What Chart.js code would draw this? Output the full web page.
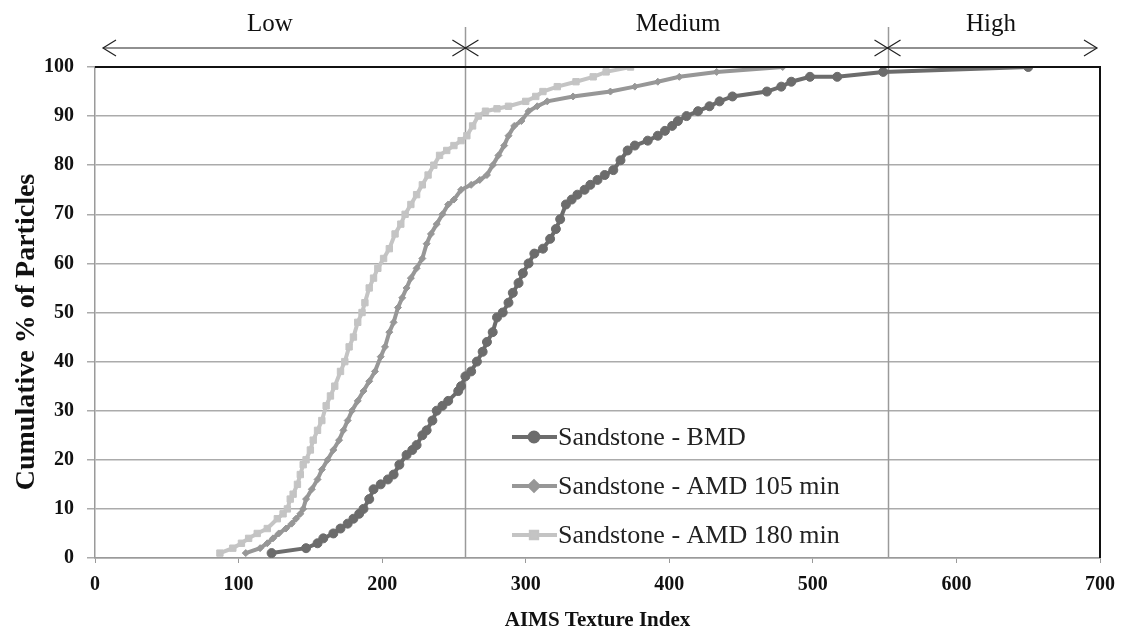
<!DOCTYPE html>
<html>
<head>
<meta charset="utf-8">
<script src="https://cdn.jsdelivr.net/npm/chart.js@4.4.1/dist/chart.umd.min.js"></script>
<style>
  html, body { margin: 0; padding: 0; background: #fff; }
  #wrap { width: 1122px; height: 639px; position: relative; }
</style>
</head>
<body>
<div id="wrap"><canvas id="chart" width="1122" height="639"></canvas></div>
<script>
// Dữ liệu: [AIMS Texture Index, % tích lũy]
const bmd = [[123,1],[147,2],[155,3],[159,4],[166,5],[171,6],[176,7],[180,8],[184,9],[187,10],[191,12],[194,14],[199,15],[204,16],[208,17],[212,19],[217,21],[221,22],[224,23],[228,25],[231,26],[235,28],[238,30],[242,31],[246,32],[253,34],[255,35],[258,37],[262,38],[266,40],[270,42],[273,44],[277,46],[280,49],[284,50],[288,52],[291,54],[295,56],[298,58],[302,60],[306,62],[312,63],[317,65],[321,67],[324,69],[328,72],[332,73],[336,74],[341,75],[345,76],[350,77],[355,78],[361,79],[366,81],[371,83],[376,84],[385,85],[392,86],[397,87],[402,88],[406,89],[412,90],[420,91],[428,92],[435,93],[444,94],[468,95],[478,96],[485,97],[498,98],[517,98],[549,99],[650,100]];

const amd105 = [[105,1],[115,2],[120,3],[124,4],[128,5],[133,6],[137,7],[140,8],[143,9],[145,10],[147,12],[151,14],[155,16],[158,18],[162,20],[166,22],[170,24],[173,26],[176,28],[179,30],[183,32],[187,34],[191,36],[195,38],[199,41],[202,43],[205,46],[208,48],[211,51],[214,53],[217,55],[220,57],[224,59],[228,61],[231,64],[234,66],[238,68],[242,70],[246,72],[250,73],[255,75],[262,76],[268,77],[273,78],[277,80],[281,82],[285,84],[288,86],[292,88],[297,89],[302,91],[308,92],[315,93],[333,94],[359,95],[376,96],[392,97],[407,98],[433,99],[479,100]];

const amd180 = [[87,1],[96,2],[102,3],[107,4],[113,5],[120,6],[127,8],[131,9],[134,10],[136,12],[138,13],[141,15],[143,17],[145,19],[147,20],[150,22],[152,24],[155,26],[158,28],[161,31],[164,33],[167,35],[171,38],[174,40],[177,43],[180,45],[183,48],[186,50],[188,52],[191,55],[194,57],[197,59],[201,61],[205,63],[209,66],[213,68],[216,70],[220,72],[224,74],[228,76],[232,78],[236,80],[240,82],[245,83],[250,84],[255,85],[259,86],[263,88],[267,90],[272,91],[280,91.5],[288,92],[300,93],[307,94],[312,95],[322,96],[335,97],[347,98],[356,99],[373,100]];

const seriesNames = ['Sandstone - BMD', 'Sandstone - AMD 105 min', 'Sandstone - AMD 180 min'];
const seriesColors = ['#6c6c6c', '#979797', '#c4c4c4'];
const seriesMarkers = ['circle', 'rectRot', 'rect'];

// Ranh giới phân loại và nhãn
const zoneBounds = [258, 552];
const zoneLabels = ['Low', 'Medium', 'High'];

const serif = '"Liberation Serif", "Times New Roman", serif';

function toPts(arr) {
    return arr.map(p => ({ x: p[0], y: p[1] }));
}

// Vẽ vùng Low/Medium/High, khung, tiêu đề trục tung và chú giải
const extras = {
    id: 'extras',
    beforeDatasetsDraw(chart) {
        const ctx = chart.ctx;
        const xs = chart.scales.x;
        const a = chart.chartArea;
        ctx.save();
        ctx.strokeStyle = '#9a9a9a';
        ctx.lineWidth = 1.5;
        zoneBounds.forEach(v => {
            const px = Math.round(xs.getPixelForValue(v)) + 0.5;
            ctx.beginPath();
            ctx.moveTo(px, 27);
            ctx.lineTo(px, a.bottom);
            ctx.stroke();
        });
        ctx.restore();
    },
    afterDraw(chart) {
        const ctx = chart.ctx;
        const xs = chart.scales.x;
        const a = chart.chartArea;
        ctx.save();
        // khung trên và phải
        ctx.strokeStyle = '#111';
        ctx.lineWidth = 2;
        ctx.beginPath();
        ctx.moveTo(a.left, a.top);
        ctx.lineTo(a.right, a.top);
        ctx.lineTo(a.right, a.bottom);
        ctx.stroke();

        // mũi tên
        const ay = 48;
        const x0 = 103, x3 = 1097;
        const b1 = xs.getPixelForValue(zoneBounds[0]);
        const b2 = xs.getPixelForValue(zoneBounds[1]);
        ctx.strokeStyle = '#222';
        ctx.lineWidth = 1.2;
        ctx.beginPath();
        ctx.moveTo(x0, ay);
        ctx.lineTo(x3, ay);
        ctx.stroke();
        const head = (x, dir) => {
            ctx.beginPath();
            ctx.moveTo(x + dir * 13, ay - 8);
            ctx.lineTo(x, ay);
            ctx.lineTo(x + dir * 13, ay + 8);
            ctx.stroke();
        };
        head(x0, 1);
        head(x3, -1);
        [b1, b2].forEach(b => { head(b, -1); head(b, 1); });

        ctx.fillStyle = '#111';
        ctx.font = '25px ' + serif;
        ctx.textAlign = 'center';
        ctx.textBaseline = 'alphabetic';
        ctx.fillText(zoneLabels[0], 270, 31);
        ctx.fillText(zoneLabels[1], 678, 31);
        ctx.fillText(zoneLabels[2], 991, 31);

        // tiêu đề trục tung
        ctx.save();
        ctx.translate(27, 332);
        ctx.rotate(-Math.PI / 2);
        ctx.font = 'bold 28px ' + serif;
        ctx.textBaseline = 'middle';
        ctx.fillText('Cumulative % of Particles', 0, 0);
        ctx.restore();

        // chú giải
        const lx = 512, ly = [437, 486, 535];
        ctx.textAlign = 'left';
        ctx.textBaseline = 'middle';
        ctx.font = '26px ' + serif;
        seriesNames.forEach((name, i) => {
            ctx.strokeStyle = seriesColors[i];
            ctx.fillStyle = seriesColors[i];
            ctx.lineWidth = 4;
            ctx.beginPath();
            ctx.moveTo(lx, ly[i]);
            ctx.lineTo(lx + 45, ly[i]);
            ctx.stroke();
            Chart.helpers.drawPoint(ctx, { pointStyle: seriesMarkers[i], radius: 4.5, borderWidth: 1 }, lx + 22, ly[i]);
            ctx.fill();
            ctx.fillStyle = '#222';
            ctx.fillText(name, lx + 46, ly[i] + 1);
        });
        ctx.restore();
    }
};

const datasets = [bmd, amd105, amd180].map((d, i) => ({
    label: seriesNames[i],
    data: toPts(d),
    showLine: true,
    borderColor: seriesColors[i],
    backgroundColor: seriesColors[i],
    borderWidth: 4,
    pointStyle: seriesMarkers[i],
    pointRadius: i === 1 ? 3.5 : 4.5,
    pointBorderWidth: 1,
    order: 2 - i
}));

const ctx = document.getElementById('chart').getContext('2d');
new Chart(ctx, {
    type: 'scatter',
    data: { datasets: datasets },
    options: {
        responsive: false,
        animation: false,
        layout: { padding: { top: 67, right: 22, left: 0, bottom: 0 } },
        plugins: { legend: { display: false }, tooltip: { enabled: false } },
        scales: {
            x: {
                type: 'linear', min: 0, max: 700,
                ticks: { stepSize: 100, color: '#111', padding: 10, font: { family: serif, size: 20, weight: 'bold' } },
                grid: { drawOnChartArea: false, color: '#9a9a9a', tickLength: 5 },
                border: { color: '#9a9a9a', width: 1.5 },
                title: { display: true, text: 'AIMS Texture Index', color: '#111', padding: { top: 4, bottom: 6 }, font: { family: serif, size: 21, weight: 'bold' } },
                afterFit(s) { s.height = 81; s.paddingRight = 0; s.paddingLeft = 0; }
            },
            y: {
                type: 'linear', min: 0, max: 100,
                ticks: { stepSize: 10, color: '#111', padding: 13, font: { family: serif, size: 20, weight: 'bold' } },
                grid: { color: '#ababab', lineWidth: 1.5, tickLength: 8 },
                border: { color: '#9a9a9a', width: 1.5 },
                afterFit(s) { s.width = 95; s.paddingTop = 0; s.paddingBottom = 0; }
            }
        }
    },
    plugins: [extras]
});
</script>
</body>
</html>
